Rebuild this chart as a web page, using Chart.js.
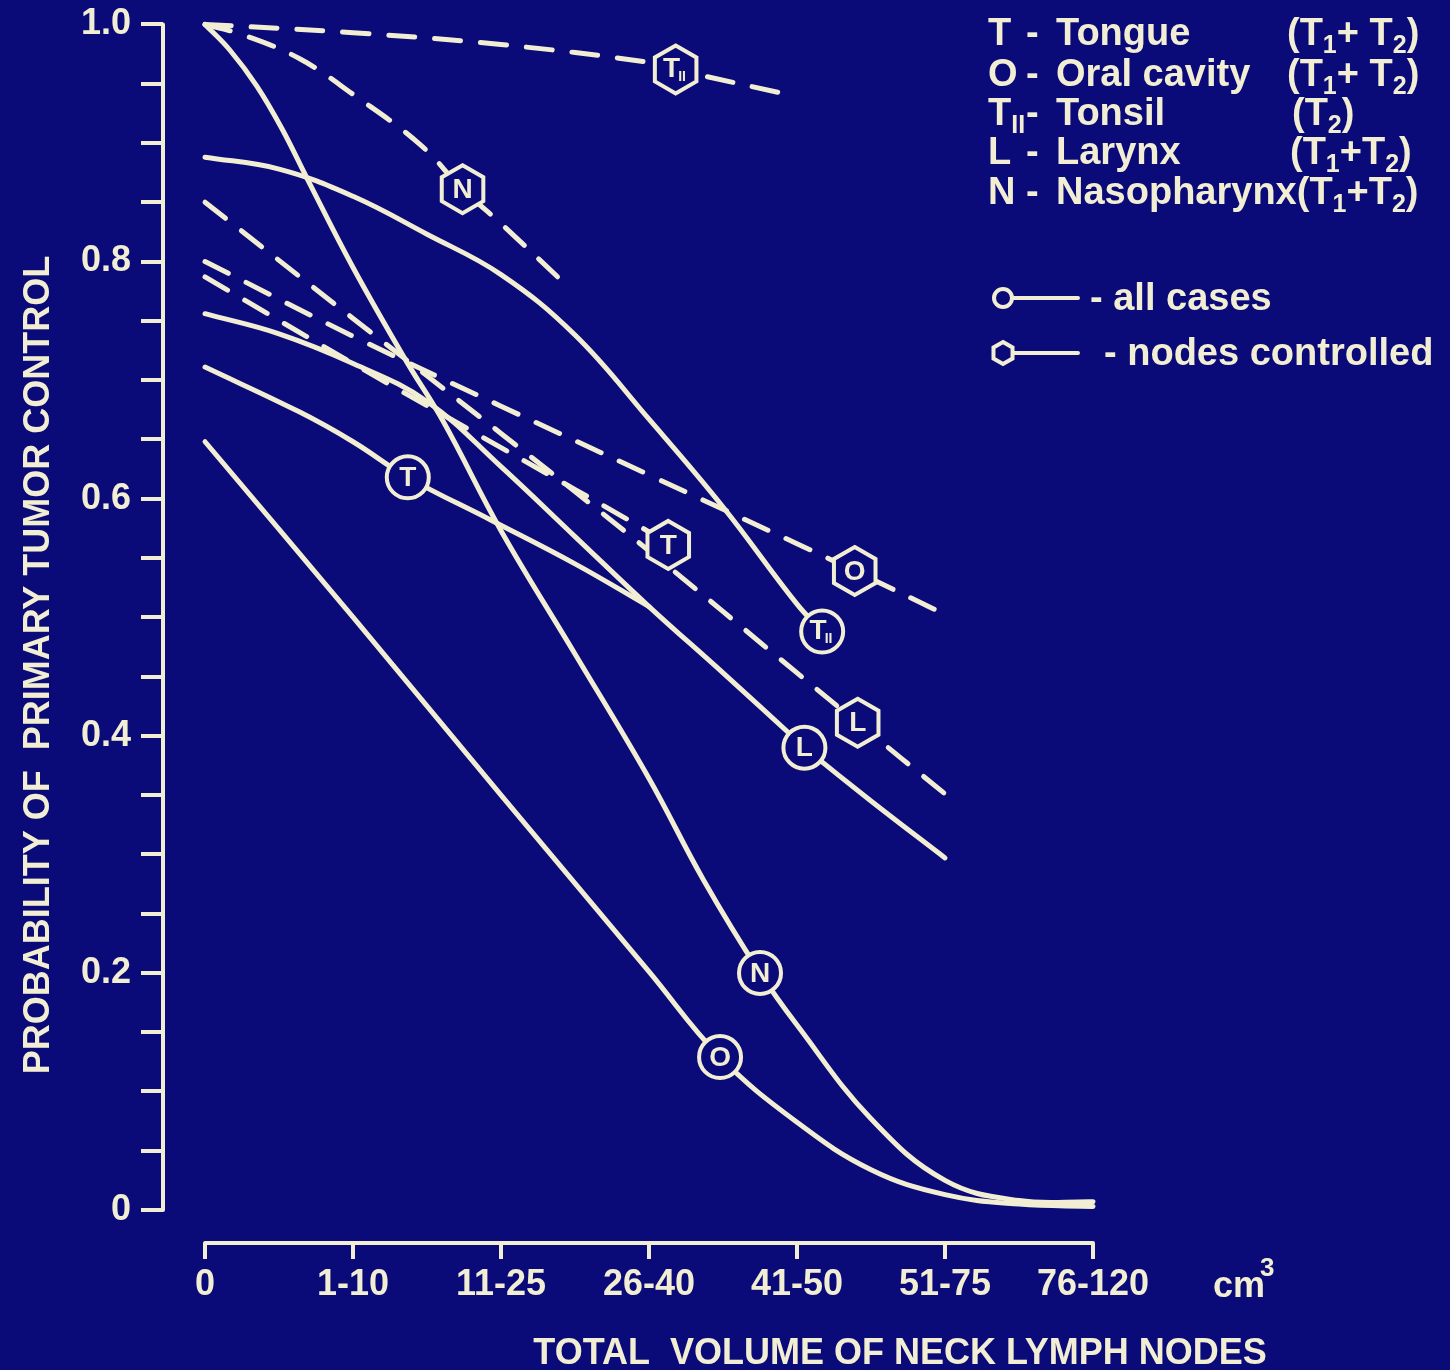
<!DOCTYPE html>
<html>
<head>
<meta charset="utf-8">
<script src="https://cdn.jsdelivr.net/npm/chart.js@4.4.1/dist/chart.umd.min.js"></script>
<style>
  html, body { margin: 0; padding: 0; background: #0a0a78; }
  #wrap { width: 1450px; height: 1370px; }
</style>
</head>
<body>
<div id="wrap"><canvas id="controlChart" width="1450" height="1370"></canvas></div>
<script>
const cream = '#f2eed3';
const navy = '#0a0a78';
const fontFamily = '"Liberation Sans", Arial, sans-serif';

// axes
const volumeTicks = [0, 1, 2, 3, 4, 5, 6];
const volumeLabels = ['0', '1-10', '11-25', '26-40', '41-50', '51-75', '76-120'];
const probTicks = [0, 0.05, 0.1, 0.15, 0.2, 0.25, 0.3, 0.35, 0.4, 0.45, 0.5,
                   0.55, 0.6, 0.65, 0.7, 0.75, 0.8, 0.85, 0.9, 0.95, 1.0];
const probLabels = ['0', '', '', '', '0.2', '', '', '', '0.4', '', '', '', '0.6',
                    '', '', '', '0.8', '', '', '', '1.0'];

// all cases (solid curves)
const tongueAllX = [0, 0.64, 1, 1.37, 1.93, 2.5, 3];
const tongueAllY = [0.711, 0.673, 0.648, 0.618, 0.582, 0.545, 0.509];
const oralAllX = [0, 1, 2, 3, 3.48, 4, 4.5, 5, 5.5, 6];
const oralAllY = [0.648, 0.5, 0.35, 0.201, 0.129, 0.074, 0.034, 0.013, 0.005, 0.003];
const tonsilAllX = [0, 0.5, 1, 1.5, 2, 2.5, 3, 3.5, 4, 4.17];
const tonsilAllY = [0.888, 0.878, 0.855, 0.823, 0.789, 0.738, 0.667, 0.593, 0.511, 0.488];
const larynxAllX = [0, 0.5, 1, 1.5, 2, 2.5, 3, 3.5, 4, 4.05, 4.5, 5];
const larynxAllY = [0.756, 0.739, 0.714, 0.682, 0.627, 0.568, 0.509, 0.453, 0.396, 0.390, 0.345, 0.297];
const nasoAllX = [0, 0.17, 0.35, 0.52, 0.69, 1, 1.36, 1.61, 2, 2.5, 3, 3.37, 3.75, 4, 4.5, 5, 5.5, 6];
const nasoAllY = [1.0, 0.978, 0.948, 0.912, 0.870, 0.795, 0.716, 0.665, 0.573, 0.469, 0.364, 0.278,
                  0.200, 0.156, 0.077, 0.025, 0.008, 0.007];

// nodes controlled (dashed curves)
const tongueNodesX = [0, 1, 2, 3, 3.13];
const tongueNodesY = [0.787, 0.714, 0.643, 0.572, 0.561];
const oralNodesX = [0, 1, 2, 3, 4, 4.39, 4.99];
const oralNodesY = [0.800, 0.737, 0.678, 0.620, 0.562, 0.539, 0.503];
const tonsilNodesX = [0, 1, 2, 3, 3.18, 3.97];
const tonsilNodesY = [1.0, 0.993, 0.983, 0.968, 0.962, 0.940];
const larynxNodesX = [0, 1, 2, 3, 4, 4.41, 5];
const larynxNodesY = [0.850, 0.752, 0.655, 0.556, 0.453, 0.411, 0.351];
const nasoNodesX = [0, 0.26, 0.64, 1, 1.45, 1.74, 2, 2.4];
const nasoNodesY = [1.0, 0.991, 0.971, 0.941, 0.899, 0.861, 0.832, 0.785];

// letter, subscript, marker index, dashed?
const curves = [
  ['T', '', tongueAllX, tongueAllY, 3, false],
  ['O', '', oralAllX, oralAllY, 4, false],
  ['T', 'II', tonsilAllX, tonsilAllY, 9, false],
  ['L', '', larynxAllX, larynxAllY, 9, false],
  ['N', '', nasoAllX, nasoAllY, 12, false],
  ['T', '', tongueNodesX, tongueNodesY, 4, true],
  ['O', '', oralNodesX, oralNodesY, 5, true],
  ['T', 'II', tonsilNodesX, tonsilNodesY, 4, true],
  ['L', '', larynxNodesX, larynxNodesY, 5, true],
  ['N', '', nasoNodesX, nasoNodesY, 5, true]
];

const datasets = curves.map(([letter, sub, xs, ys, mark, nodes]) => ({
  data: xs.map((x, i) => ({ x: x, y: ys[i] })),
  borderColor: cream,
  borderWidth: 5,
  borderDash: nodes ? [26, 20] : [],
  borderCapStyle: 'round',
  pointRadius: 0,
  tension: 0.4,
  clip: false,
  letter: letter,
  sub: sub,
  markIndex: mark,
  nodes: nodes
}));

function hexPath(ctx, x, y, r) {
  ctx.beginPath();
  for (let k = 0; k < 6; k++) {
    const a = -Math.PI / 2 + k * Math.PI / 3;
    const px = x + r * Math.cos(a), py = y + r * Math.sin(a);
    if (k === 0) ctx.moveTo(px, py); else ctx.lineTo(px, py);
  }
  ctx.closePath();
}

// text with subscripts: plain strings, {sub: '1'} for subscript pieces
function drawRich(ctx, x, y, parts, size) {
  parts.forEach(p => {
    const isSub = typeof p === 'object';
    const text = isSub ? p.sub : p;
    ctx.font = 'bold ' + (isSub ? Math.round(size * 0.66) : size) + 'px ' + fontFamily;
    ctx.fillText(text, x, isSub ? y + size * 0.2 : y);
    x += ctx.measureText(text).width;
  });
  return x;
}

const siteMarkers = {
  id: 'siteMarkers',
  afterDatasetsDraw(chart) {
    const ctx = chart.ctx;
    ctx.save();
    chart.data.datasets.forEach((ds, i) => {
      const pt = chart.getDatasetMeta(i).data[ds.markIndex];
      if (!pt) return;
      ctx.lineWidth = 4;
      ctx.strokeStyle = cream;
      ctx.fillStyle = navy;
      if (ds.nodes) {
        hexPath(ctx, pt.x, pt.y, 24);
      } else {
        ctx.beginPath();
        ctx.arc(pt.x, pt.y, 21, 0, Math.PI * 2);
      }
      ctx.fill();
      ctx.stroke();
      ctx.fillStyle = cream;
      ctx.textBaseline = 'middle';
      ctx.textAlign = 'left';
      ctx.font = 'bold 28px ' + fontFamily;
      const w = ctx.measureText(ds.letter).width;
      if (ds.sub) {
        ctx.fillText(ds.letter, pt.x - w / 2 - 4, pt.y);
        ctx.font = 'bold 14px ' + fontFamily;
        ctx.fillText(ds.sub, pt.x + w / 2 - 6, pt.y + 8);
      } else {
        ctx.fillText(ds.letter, pt.x - w / 2, pt.y + 1);
      }
    });
    ctx.restore();
  }
};

const frameAndText = {
  id: 'frameAndText',
  afterDraw(chart) {
    const { ctx, chartArea, scales } = chart;
    const x = scales.x, y = scales.y;
    ctx.save();
    ctx.strokeStyle = cream;
    ctx.fillStyle = cream;
    ctx.lineWidth = 4;
    ctx.lineCap = 'round';
    ctx.beginPath();
    ctx.moveTo(chartArea.left, y.getPixelForValue(0));
    ctx.lineTo(chartArea.left, y.getPixelForValue(1));
    ctx.moveTo(x.getPixelForValue(0), chartArea.bottom);
    ctx.lineTo(x.getPixelForValue(6), chartArea.bottom);
    ctx.stroke();

    // unit after the last category
    ctx.textBaseline = 'alphabetic';
    ctx.textAlign = 'left';
    ctx.font = 'bold 36px ' + fontFamily;
    ctx.fillText('cm', 1213, 1297);
    ctx.font = 'bold 26px ' + fontFamily;
    ctx.fillText('3', 1260, 1276);

    // axis titles
    ctx.font = 'bold 36px ' + fontFamily;
    ctx.textAlign = 'center';
    ctx.fillText('TOTAL  VOLUME OF NECK LYMPH NODES', 900, 1364);
    ctx.save();
    ctx.translate(49, 665);
    ctx.rotate(-Math.PI / 2);
    ctx.fillText('PROBABILITY OF  PRIMARY TUMOR CONTROL', 0, 0);
    ctx.restore();

    // key
    ctx.textAlign = 'left';
    const s = 38;
    const rows = [
      [['T'], ['Tongue'], ['(T', { sub: '1' }, '+ T', { sub: '2' }, ')'], 45, 1287],
      [['O'], ['Oral cavity'], ['(T', { sub: '1' }, '+ T', { sub: '2' }, ')'], 86, 1287],
      [['T', { sub: 'II' }], ['Tonsil'], ['(T', { sub: '2' }, ')'], 125, 1292],
      [['L'], ['Larynx'], ['(T', { sub: '1' }, '+T', { sub: '2' }, ')'], 164, 1290],
      [['N'], ['Nasopharynx'], ['(T', { sub: '1' }, '+T', { sub: '2' }, ')'], 204, null]
    ];
    rows.forEach(([key, name, stage, base, stageX]) => {
      drawRich(ctx, 988, base, key, s);
      drawRich(ctx, 1026, base, ['-'], s);
      const end = drawRich(ctx, 1056, base, name, s);
      drawRich(ctx, stageX || end, base, stage, s);
    });

    ctx.lineWidth = 4;
    ctx.beginPath();
    ctx.arc(1003, 298, 9, 0, Math.PI * 2);
    ctx.moveTo(1012, 298);
    ctx.lineTo(1078, 298);
    ctx.stroke();
    drawRich(ctx, 1090, 310, ['- all cases'], s);

    hexPath(ctx, 1003, 353, 11);
    ctx.moveTo(1013, 353);
    ctx.lineTo(1078, 353);
    ctx.stroke();
    drawRich(ctx, 1104, 365, ['- nodes controlled'], s);
    ctx.restore();
  }
};

const tickFont = { family: fontFamily, size: 36, weight: 'bold', lineHeight: 0.8 };

new Chart(document.getElementById('controlChart').getContext('2d'), {
  type: 'line',
  data: { datasets: datasets },
  options: {
    responsive: false,
    animation: false,
    layout: { padding: { left: 0, right: 357, top: 22, bottom: 0 } },
    plugins: { legend: { display: false }, tooltip: { enabled: false } },
    scales: {
      x: {
        type: 'linear',
        min: -0.284,
        max: 6,
        afterBuildTicks: s => { s.ticks = volumeTicks.map(v => ({ value: v })); },
        afterFit: s => { s.height = 127; },
        border: { display: false },
        grid: { drawOnChartArea: false, tickLength: 16, color: cream, lineWidth: 4 },
        ticks: {
          color: cream, font: tickFont, padding: 12, maxRotation: 0, autoSkip: false,
          callback: (v, i) => volumeLabels[i]
        }
      },
      y: {
        type: 'linear',
        min: -0.0278,
        max: 1,
        afterBuildTicks: s => { s.ticks = probTicks.map(v => ({ value: v })); },
        afterFit: s => { s.width = 163; },
        border: { display: false },
        grid: { drawOnChartArea: false, tickLength: 22, color: cream, lineWidth: 4 },
        ticks: {
          color: cream, font: tickFont, padding: 10, autoSkip: false,
          callback: (v, i) => probLabels[i]
        }
      }
    }
  },
  plugins: [siteMarkers, frameAndText]
});
</script>
</body>
</html>
